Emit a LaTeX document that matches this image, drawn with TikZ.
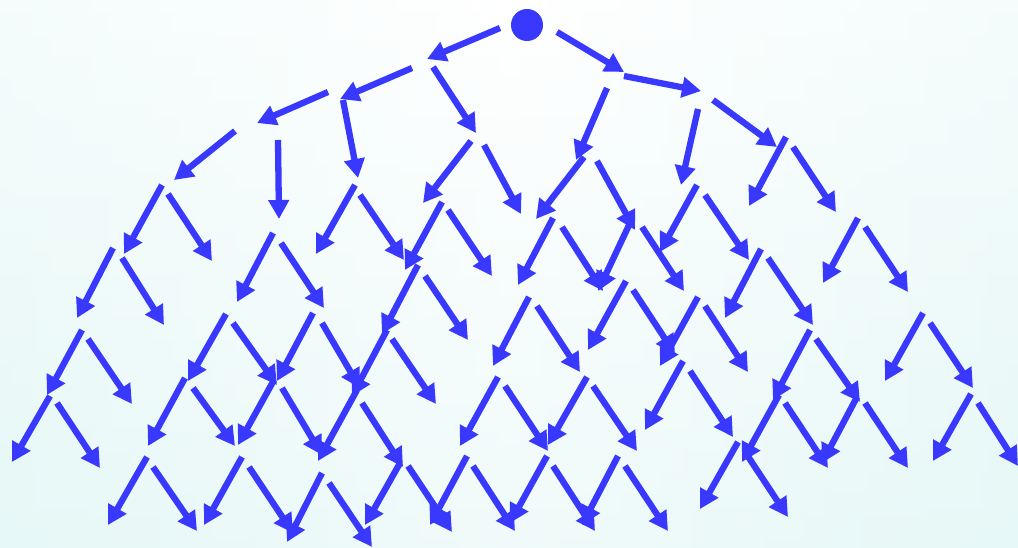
\documentclass[tikz,border=0pt]{standalone}
\usetikzlibrary{arrows.meta}
\definecolor{arrblue}{RGB}{56,56,255}
\definecolor{bgedge}{RGB}{230,248,247}
\begin{document}
\begin{tikzpicture}[x=1pt,y=-1pt,
  arr/.style={draw=arrblue, line width=6.3pt, -{Triangle[length=19pt,width=20pt]}},
  rootdot/.style={circle, fill=arrblue, minimum size=32pt, inner sep=0pt}]
\useasboundingbox (0,0) rectangle (1018,548);
\shade[left color=bgedge, right color=bgedge, middle color=white] (0,0) rectangle (1018,548);
\shade[top color=white, bottom color=bgedge, opacity=0.6] (0,0) rectangle (1018,548);
\node[rootdot] (root) at (527,25) {};
\foreach \a/\b/\c/\d [count=\i] in {
500/28/427/59, 557/32/624/72, 624/76/701/91, 412/68/340/99, 433/67/476/133,
328/92/257/123, 343/100/358/178, 607/88/576/160, 698/109/681/185, 713/100/777/147,
235/131/174/180, 278/140/279/219, 471/141/423/203, 484/145/521/214, 584/157/536/219,
597/161/635/230, 786/137/749/206, 793/147/836/212, 162/185/124/254, 168/194/212/261,
355/185/316/254, 360/195/404/260, 442/202/405/270, 448/210/492/276, 553/218/518/285,
562/227/603/291, 630/223/598/291, 642/227/684/291, 697/185/660/252, 705/195/749/260,
858/218/823/283, 865/227/908/292, 113/248/77/318, 122/258/164/325, 273/233/237/302,
281/243/324/308, 761/249/725/318, 768/258/813/325, 418/265/382/334, 425/276/468/340,
529/297/493/366, 537/306/580/372, 626/281/588/350, 633/290/675/354, 698/297/660/366,
705/306/748/372, 810/330/773/400, 816/339/860/402, 923/313/885/381, 930/323/973/388,
82/330/47/395, 88/339/132/404, 226/314/188/381, 233/323/277/385, 313/313/277/381,
322/323/360/388, 387/330/352/396, 392/339/436/404, 498/377/460/446, 505/386/548/451,
587/377/548/445, 593/386/637/451, 683/361/645/430, 690/371/733/437, 779/395/742/462,
785/403/828/468, 857/397/822/463, 865/403/908/468, 971/394/933/461, 978/403/1018/466,
50/396/12/462, 57/403/100/468, 185/378/148/446, 193/388/235/446, 274/380/238/445,
282/388/322/455, 357/390/318/461, 362/403/403/467, 738/442/700/509, 747/455/788/517,
147/457/108/525, 153/467/197/531, 242/457/204/525, 249/467/293/533, 322/473/287/542,
329/483/372/547, 400/463/365/525, 408/466/452/532, 467/456/430/525, 473/466/515/531,
547/456/510/523, 553/466/595/531, 618/456/582/525, 625/466/668/531}
{
  \coordinate (s\i) at (\a,\b);
  \coordinate (e\i) at (\c,\d);
  \draw[arr] (s\i) -- (e\i);
}
\end{tikzpicture}
\end{document}
